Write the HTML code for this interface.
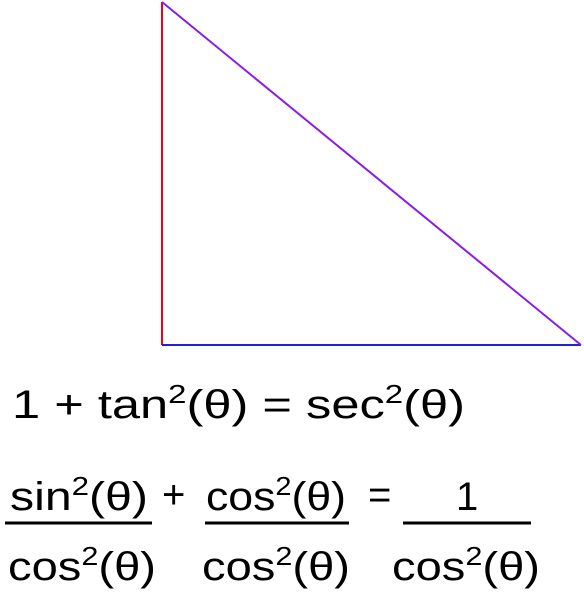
<!DOCTYPE html>
<html>
<head>
<meta charset="utf-8">
<style>
html,body{margin:0;padding:0;background:#fff;}
svg{display:block;}
text{font-family:"Liberation Sans","DejaVu Sans",sans-serif;fill:#000;}
</style>
</head>
<body>
<svg width="584" height="594" viewBox="0 0 584 594">
  <g>
    <line x1="162" y1="2" x2="162" y2="345" stroke="#e8001c" stroke-width="2"/>
    <line x1="162" y1="345" x2="581" y2="345" stroke="#2020d8" stroke-width="2"/>
    <line x1="162" y1="2" x2="581" y2="345" stroke="#8a1ee0" stroke-width="2"/>
  </g>
  <text x="12" y="418" font-size="40" textLength="453" lengthAdjust="spacingAndGlyphs">1 + tan<tspan dy="-15" font-size="26">2</tspan><tspan dy="15">(θ) =  sec</tspan><tspan dy="-15" font-size="26">2</tspan><tspan dy="15">(θ)</tspan></text>

  <g>
    <text x="10" y="510" font-size="40" textLength="138" lengthAdjust="spacingAndGlyphs">sin<tspan dy="-15" font-size="26">2</tspan><tspan dy="15">(θ)</tspan></text>
    <line x1="5" y1="523" x2="152" y2="523" stroke="#000" stroke-width="3"/>
    <text x="8" y="580" font-size="40" textLength="148" lengthAdjust="spacingAndGlyphs">cos<tspan dy="-15" font-size="26">2</tspan><tspan dy="15">(θ)</tspan></text>
  </g>
  <text x="162" y="508" font-size="40">+</text>
  <g>
    <text x="206" y="510" font-size="40" textLength="140" lengthAdjust="spacingAndGlyphs">cos<tspan dy="-15" font-size="26">2</tspan><tspan dy="15">(θ)</tspan></text>
    <line x1="205" y1="523" x2="349" y2="523" stroke="#000" stroke-width="3"/>
    <text x="202" y="580" font-size="40" textLength="148" lengthAdjust="spacingAndGlyphs">cos<tspan dy="-15" font-size="26">2</tspan><tspan dy="15">(θ)</tspan></text>
  </g>
  <text x="368" y="508" font-size="40">=</text>
  <g>
    <text x="456" y="510" font-size="40">1</text>
    <line x1="403" y1="523" x2="531" y2="523" stroke="#000" stroke-width="3"/>
    <text x="392" y="580" font-size="40" textLength="148" lengthAdjust="spacingAndGlyphs">cos<tspan dy="-15" font-size="26">2</tspan><tspan dy="15">(θ)</tspan></text>
  </g>
</svg>
</body>
</html>
